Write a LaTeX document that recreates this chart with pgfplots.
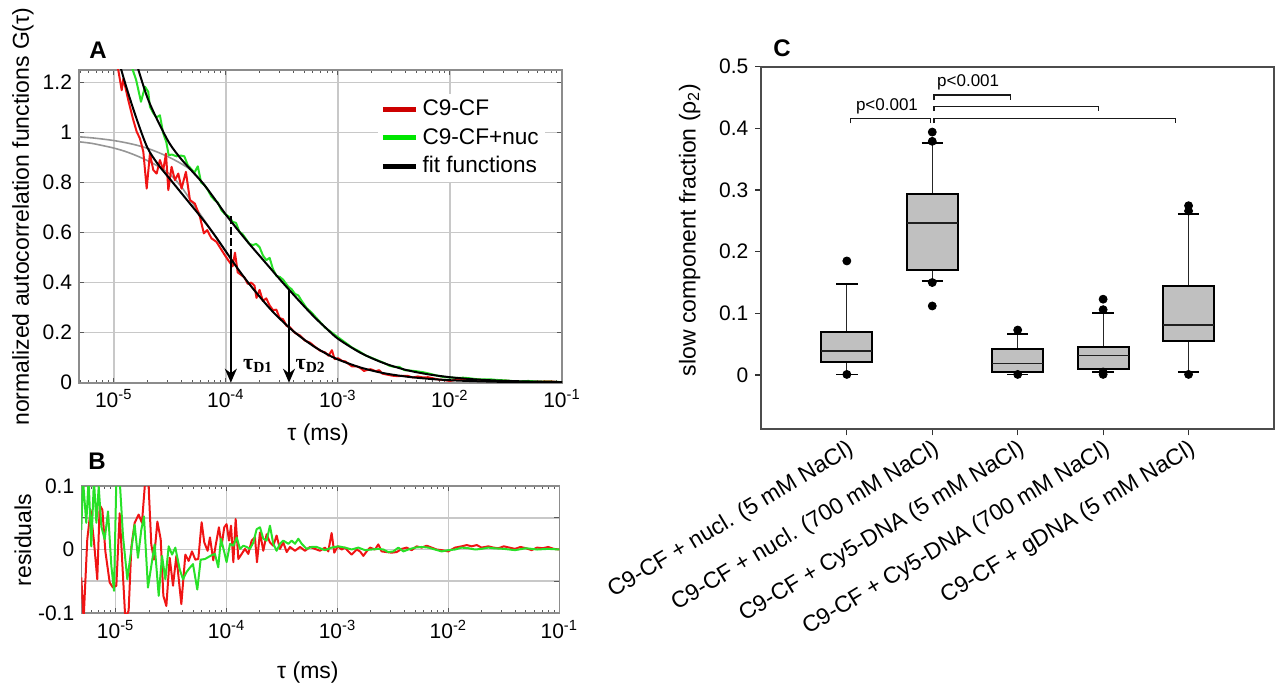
\documentclass[border=0pt]{standalone}
\usepackage{pgfplots}
\pgfplotsset{compat=1.18}
\usetikzlibrary{arrows.meta}
\usepackage{fontspec}
\setmainfont{Liberation Sans}
\newfontfamily\timesfont{Liberation Serif}

\definecolor{datred}{RGB}{240,20,20}
\definecolor{datgreen}{RGB}{40,225,40}
\definecolor{legred}{RGB}{205,0,0}
\definecolor{leggreen}{RGB}{0,230,0}
\definecolor{fitgray}{RGB}{150,150,150}
\definecolor{gridgray}{RGB}{200,200,200}
\definecolor{framegray}{RGB}{140,140,140}
\definecolor{boxgray}{RGB}{192,192,192}

\newcommand\tlbl{\fontsize{10.5}{12}\selectfont}
\newcommand\lbl{\fontsize{11.5}{13}\selectfont}
\newcommand\plbl{\fontsize{8.5}{10}\selectfont}

\pgfplotsset{
  fcs/.style={
    scale only axis, xmin=-5.31, xmax=-1,
    xtick={-5,-4,-3,-2,-1},
    xticklabels={10\textsuperscript{-5},10\textsuperscript{-4},10\textsuperscript{-3},10\textsuperscript{-2},10\textsuperscript{-1}},
    minor xtick={-5.301,-5.222,-5.155,-5.097,-5.046,
      -4.699,-4.523,-4.398,-4.301,-4.222,-4.155,-4.097,-4.046,
      -3.699,-3.523,-3.398,-3.301,-3.222,-3.155,-3.097,-3.046,
      -2.699,-2.523,-2.398,-2.301,-2.222,-2.155,-2.097,-2.046,
      -1.699,-1.523,-1.398,-1.301,-1.222,-1.155,-1.097,-1.046},
    grid=major, major grid style={draw=gridgray, line width=0.8pt},
    axis line style={draw=framegray, line width=0.8pt},
    tick align=inside, tick style={draw=gray!70!black, line width=0.5pt},
    major tick length=2.5pt, minor tick length=1.5pt,
    tick label style={font=\tlbl}, label style={font=\lbl},
    every axis plot/.append style={line join=round},
  }
}

\begin{document}
\begin{tikzpicture}
\path[use as bounding box] (0,0) rectangle (639pt,343.5pt);

% ---------------- A ----------------
\begin{axis}[fcs,
  at={(39.5pt,308.5pt)}, anchor=north west,
  width=241.5pt, height=156.35pt,
  ymin=0, ymax=1.25,
  ytick={0,0.2,0.4,0.6,0.8,1,1.2},
  yticklabels={0,0.2,0.4,0.6,0.8,1,1.2},
  xlabel={τ (ms)}, ylabel={normalized autocorrelation functions G(τ)},
  xlabel style={at={(axis description cs:0.495,-0.167)}, anchor=center},
  ylabel style={at={(axis description cs:-0.116,0.531)}, anchor=center},
  legend style={at={(axis description cs:0.619,0.925)}, anchor=north west,
    draw=none, fill=white, font=\fontsize{11.3}{13}\selectfont, row sep=0.8pt, inner sep=1pt},
  legend cell align=left,
  legend image code/.code={\draw[#1] (0pt,0pt) -- (16.5pt,0pt);},
]
% single-component curves (grey)
\addplot[fitgray, line width=0.8pt, smooth, forget plot] coordinates {
(-5.31,0.963) (-5.2,0.957) (-5.1,0.948) (-5.0,0.938) (-4.9,0.925) (-4.8,0.908)
(-4.7,0.888) (-4.6,0.864) (-4.5,0.834) (-4.4,0.785) (-4.3,0.72) (-4.2,0.655)
(-4.1,0.59) (-4.0,0.525)};
\addplot[fitgray, line width=0.8pt, smooth, forget plot] coordinates {
(-5.31,0.983) (-5.2,0.979) (-5.1,0.974) (-5.0,0.968) (-4.9,0.96) (-4.8,0.95)
(-4.7,0.937) (-4.6,0.92) (-4.5,0.90) (-4.4,0.876) (-4.3,0.846) (-4.2,0.795)
(-4.1,0.735) (-4.0,0.672)};
% C9-CF data
\addplot[datred, line width=1pt, forget plot] coordinates {
(-5.31,1.95) (-5.2,1.75) (-5.1,1.56) (-5.0,1.33) (-4.959,1.249) (-4.929,1.169)
(-4.914,1.216) (-4.870,1.129) (-4.825,1.049) (-4.795,1.003) (-4.766,0.976)
(-4.736,0.923) (-4.706,0.776) (-4.677,0.916) (-4.647,0.850) (-4.617,0.836)
(-4.588,0.890) (-4.558,0.850) (-4.534,0.916) (-4.513,0.770) (-4.484,0.863)
(-4.454,0.810) (-4.424,0.836) (-4.395,0.776) (-4.356,0.843) (-4.320,0.730)
(-4.276,0.716) (-4.231,0.663) (-4.196,0.597) (-4.166,0.610) (-4.128,0.577)
(-4.083,0.563) (-4.047,0.537) (-4.009,0.510) (-3.979,0.490) (-3.939,0.465)
(-3.918,0.520) (-3.894,0.441) (-3.864,0.431) (-3.834,0.421) (-3.804,0.395)
(-3.774,0.400) (-3.744,0.388) (-3.726,0.339) (-3.699,0.371) (-3.669,0.327)
(-3.639,0.337) (-3.609,0.309) (-3.579,0.290) (-3.549,0.292) (-3.519,0.258)
(-3.489,0.254) (-3.458,0.227) (-3.428,0.222) (-3.383,0.199) (-3.338,0.189)
(-3.293,0.168) (-3.248,0.160) (-3.203,0.143) (-3.158,0.128) (-3.113,0.121)
(-3.083,0.108) (-3.053,0.130) (-3.029,0.094) (-2.998,0.098) (-2.962,0.087)
(-2.932,0.085) (-2.902,0.074) (-2.872,0.065) (-2.827,0.065) (-2.797,0.058)
(-2.767,0.047) (-2.737,0.051) (-2.707,0.054) (-2.662,0.046) (-2.632,0.050)
(-2.602,0.036) (-2.557,0.032) (-2.512,0.028) (-2.466,0.026) (-2.421,0.0275)
(-2.376,0.027) (-2.331,0.021) (-2.286,0.025) (-2.241,0.021) (-2.196,0.022)
(-2.151,0.0175) (-2.106,0.013) (-2.061,0.011) (-2.001,0.007) (-1.940,0.012)
(-1.880,0.013) (-1.835,0.014) (-1.790,0.011) (-1.745,0.013) (-1.700,0.008)
(-1.640,0.0095) (-1.595,0.007) (-1.50,0.008) (-1.40,0.0035) (-1.30,0.004)
(-1.20,0.0046) (-1.10,0.0053) (-1.00,0.001)};
% C9-CF+nuc data
\addplot[datgreen, line width=1pt, forget plot] coordinates {
(-5.31,2.0) (-5.1,1.72) (-4.95,1.45) (-4.88,1.34) (-4.83,1.25) (-4.80,1.21)
(-4.757,1.123) (-4.721,1.183) (-4.692,1.163) (-4.677,1.103) (-4.65,1.08)
(-4.62,1.06) (-4.588,1.069) (-4.56,1.00) (-4.53,0.96) (-4.51,0.91) (-4.48,0.912)
(-4.44,0.905) (-4.40,0.908) (-4.37,0.905) (-4.34,0.87) (-4.31,0.855) (-4.28,0.84)
(-4.25,0.865) (-4.22,0.80) (-4.19,0.79) (-4.16,0.77) (-4.13,0.745) (-4.10,0.73)
(-4.07,0.72) (-4.04,0.69) (-4.01,0.675) (-3.969,0.663) (-3.939,0.643)
(-3.909,0.639) (-3.879,0.604) (-3.849,0.593) (-3.819,0.574) (-3.789,0.555)
(-3.759,0.550) (-3.729,0.555) (-3.699,0.542) (-3.669,0.509) (-3.639,0.490)
(-3.609,0.499) (-3.579,0.454) (-3.549,0.427) (-3.519,0.423) (-3.489,0.412)
(-3.443,0.384) (-3.413,0.374) (-3.383,0.355) (-3.353,0.349) (-3.323,0.327)
(-3.278,0.298) (-3.233,0.280) (-3.188,0.257) (-3.143,0.235) (-3.113,0.220)
(-3.053,0.200) (-2.993,0.180) (-2.932,0.160) (-2.872,0.140) (-2.812,0.126)
(-2.752,0.109) (-2.692,0.098) (-2.632,0.087) (-2.587,0.079) (-2.542,0.068)
(-2.497,0.063) (-2.451,0.063) (-2.406,0.050) (-2.361,0.049) (-2.301,0.046)
(-2.241,0.042) (-2.181,0.036) (-2.121,0.029) (-2.061,0.023) (-2.001,0.021)
(-1.940,0.019) (-1.880,0.020) (-1.820,0.0175) (-1.760,0.014) (-1.700,0.013)
(-1.640,0.0135) (-1.595,0.0115) (-1.5,0.009) (-1.4,0.005) (-1.3,0.007)
(-1.2,0.004) (-1.1,0.004) (-1.0,0.0024)};
% fit functions
\addplot[black, line width=1pt, smooth, forget plot] coordinates {
(-5.31,1.89) (-5.2,1.70) (-5.1,1.53) (-5.0,1.36) (-4.9,1.20) (-4.8,1.06)
(-4.7,0.94) (-4.6,0.87) (-4.5,0.815) (-4.4,0.76) (-4.3,0.705) (-4.2,0.65)
(-4.1,0.59) (-4.0,0.525) (-3.9,0.46) (-3.8,0.40) (-3.7,0.345) (-3.6,0.293)
(-3.5,0.248) (-3.4,0.207) (-3.3,0.172) (-3.2,0.141) (-3.1,0.115) (-3.0,0.093)
(-2.8,0.061) (-2.6,0.039) (-2.4,0.025) (-2.2,0.016) (-2.0,0.010) (-1.8,0.0064)
(-1.6,0.004) (-1.4,0.0025) (-1.2,0.0016) (-1.0,0.001)};
\addplot[black, line width=1pt, smooth, forget plot] coordinates {
(-5.31,2.0) (-5.2,1.87) (-5.1,1.72) (-5.0,1.58) (-4.9,1.43) (-4.8,1.28)
(-4.7,1.14) (-4.6,1.04) (-4.5,0.955) (-4.4,0.895) (-4.3,0.845) (-4.2,0.795)
(-4.1,0.735) (-4.0,0.672) (-3.9,0.615) (-3.8,0.56) (-3.7,0.508) (-3.6,0.456)
(-3.5,0.404) (-3.4,0.354) (-3.3,0.305) (-3.2,0.258) (-3.1,0.216) (-3.0,0.176)
(-2.8,0.120) (-2.6,0.080) (-2.4,0.052) (-2.2,0.034) (-2.0,0.022) (-1.8,0.014)
(-1.6,0.009) (-1.4,0.006) (-1.2,0.004) (-1.0,0.0024)};
\addlegendimage{legred, line width=2.6pt}
\addlegendentry{C9-CF}
\addlegendimage{leggreen, line width=2.6pt}
\addlegendentry{C9-CF+nuc}
\addlegendimage{black, line width=2.6pt}
\addlegendentry{fit functions}
% diffusion times
\draw[line width=1pt, dash pattern=on 4pt off 1.5pt] (axis cs:-3.955,0.503) -- (axis cs:-3.955,0.665);
\draw[line width=1pt, -{Stealth[length=7pt,width=6pt]}] (axis cs:-3.955,0.503) -- (axis cs:-3.955,0);
\draw[line width=1pt, -{Stealth[length=7pt,width=6pt]}] (axis cs:-3.436,0.370) -- (axis cs:-3.436,0);
\node[font=\timesfont\bfseries\fontsize{11}{12}\selectfont] at (axis cs:-3.711,0.066) {τ\textsubscript{D1}};
\node[font=\timesfont\bfseries\fontsize{11}{12}\selectfont] at (axis cs:-3.243,0.066) {τ\textsubscript{D2}};
\end{axis}

% ---------------- B ----------------
\begin{axis}[fcs,
  at={(40.65pt,100.5pt)}, anchor=north west,
  width=239pt, height=63.5pt,
  ymin=-0.1, ymax=0.1,
  ytick={-0.1,-0.05,0,0.05,0.1},
  yticklabels={-0.1,,0,,0.1},
  xlabel={τ (ms)}, ylabel={residuals},
  xlabel style={at={(axis description cs:0.474,-0.472)}, anchor=center},
  ylabel style={at={(axis description cs:-0.122,0.575)}, anchor=center},
]
\addplot[datred, line width=1pt] coordinates {
(-5.310,-0.044) (-5.289,-0.11) (-5.256,0.016) (-5.226,0.0625) (-5.196,0.013)
(-5.166,-0.047) (-5.144,0.07) (-5.120,0.0625) (-5.093,-0.003) (-5.054,-0.052)
(-5.024,-0.06) (-4.994,-0.057) (-4.964,0.057) (-4.934,-0.042) (-4.913,-0.11)
(-4.883,-0.096) (-4.859,0.003) (-4.829,0.042) (-4.793,0.055) (-4.763,0.042)
(-4.733,0.11) (-4.703,0.10) (-4.679,0.008) (-4.655,-0.016) (-4.624,0.044)
(-4.594,0.016) (-4.570,-0.073) (-4.543,-0.089) (-4.513,-0.013) (-4.483,-0.057)
(-4.453,-0.010) (-4.408,-0.086) (-4.372,-0.008) (-4.342,-0.018) (-4.312,-0.003)
(-4.282,-0.016) (-4.255,-0.015) (-4.225,0.043) (-4.201,0.011) (-4.171,-0.002)
(-4.150,0.019) (-4.120,-0.017) (-4.099,0.006) (-4.069,0.035) (-4.045,0.006)
(-4.021,0.035) (-4.000,0.040) (-3.978,0.014) (-3.960,0.0375) (-3.939,-0.020)
(-3.918,0.048) (-3.894,-0.015) (-3.864,-0.007) (-3.834,0.001) (-3.804,-0.007)
(-3.774,0.014) (-3.744,0.019) (-3.726,-0.02) (-3.699,0.027) (-3.669,-0.002)
(-3.639,0.024) (-3.609,0.011) (-3.579,0.006) (-3.549,0.022) (-3.519,0.001)
(-3.489,0.011) (-3.458,-0.004) (-3.428,0.004) (-3.383,-0.002) (-3.338,0.004)
(-3.293,-0.002) (-3.248,0.004) (-3.203,0.001) (-3.158,-0.002) (-3.113,0.003)
(-3.083,-0.003) (-3.053,0.026) (-3.029,-0.005) (-2.998,0.005) (-2.962,0)
(-2.932,0.003) (-2.902,-0.003) (-2.872,-0.008) (-2.827,0) (-2.797,-0.003)
(-2.767,-0.010) (-2.737,-0.003) (-2.707,0.003) (-2.662,0) (-2.632,0.008)
(-2.602,-0.003) (-2.557,-0.004) (-2.512,-0.005) (-2.466,-0.004) (-2.421,0.001)
(-2.376,0.003) (-2.331,-0.001) (-2.286,0.005) (-2.241,0.003) (-2.196,0.006)
(-2.151,0.003) (-2.106,0) (-2.061,-0.001) (-2.001,-0.003) (-1.940,0.003)
(-1.880,0.005) (-1.835,0.007) (-1.790,0.005) (-1.745,0.007) (-1.700,0.003)
(-1.640,0.005) (-1.595,0.003) (-1.55,0.002) (-1.50,0.005) (-1.45,0.003)
(-1.40,0.001) (-1.35,0.004) (-1.30,0.002) (-1.25,-0.001) (-1.20,0.003)
(-1.15,0.002) (-1.10,0.004) (-1.05,0.001) (-1.00,0.000)};
\addplot[datgreen, line width=1pt] coordinates {
(-5.310,0.031) (-5.295,0.11) (-5.265,0.042) (-5.244,0.11) (-5.220,0.005)
(-5.196,0.11) (-5.174,0.042) (-5.153,0.099) (-5.129,0.036) (-5.099,0.016)
(-5.069,0.06) (-5.039,-0.026) (-5.015,-0.065) (-4.994,0.11) (-4.964,0.11)
(-4.934,0.021) (-4.895,-0.047) (-4.865,-0.008) (-4.829,0.039) (-4.799,-0.013)
(-4.769,0.031) (-4.745,0.052) (-4.709,-0.06) (-4.679,-0.026) (-4.649,0.008)
(-4.612,-0.073) (-4.582,-0.010) (-4.552,-0.047) (-4.522,0.005) (-4.492,-0.008)
(-4.462,0.003) (-4.423,-0.031) (-4.393,-0.047) (-4.363,-0.036) (-4.333,-0.029)
(-4.303,-0.023) (-4.264,-0.063) (-4.234,-0.016) (-4.195,-0.015) (-4.165,-0.012)
(-4.135,-0.009) (-4.105,-0.007) (-4.075,-0.028) (-4.051,0.017) (-4.021,-0.004)
(-4.000,-0.02) (-3.969,0.009) (-3.939,0.006) (-3.909,0.019) (-3.879,0.001)
(-3.849,0.006) (-3.819,0.004) (-3.789,0.001) (-3.759,0.011) (-3.729,0.032)
(-3.699,0.035) (-3.669,0.017) (-3.639,0.014) (-3.609,0.0375) (-3.579,0.009)
(-3.549,-0.002) (-3.519,0.009) (-3.489,0.014) (-3.443,0.009) (-3.413,0.014)
(-3.383,0.009) (-3.353,0.017) (-3.323,0.009) (-3.278,0.001) (-3.233,0.004)
(-3.188,0.004) (-3.143,0.001) (-3.113,-0.001) (-3.053,0.003) (-2.993,0.005)
(-2.932,0.003) (-2.872,0) (-2.812,0.003) (-2.752,-0.001) (-2.692,0)
(-2.632,0.001) (-2.587,0) (-2.542,-0.004) (-2.497,-0.003) (-2.451,0.003)
(-2.406,-0.003) (-2.361,0) (-2.301,0.003) (-2.241,0.004) (-2.181,0.003)
(-2.121,0) (-2.061,-0.003) (-2.001,-0.001) (-1.940,0) (-1.880,0.003)
(-1.820,0.002) (-1.760,0) (-1.700,0.001) (-1.640,0.003) (-1.595,0.002)
(-1.5,0.001) (-1.4,-0.001) (-1.3,0.002) (-1.2,0.000) (-1.1,0.001) (-1.0,0.000)};
\end{axis}

% ---------------- C ----------------
\begin{axis}[
  scale only axis,
  at={(380.7pt,310.15pt)}, anchor=north west,
  width=256.3pt, height=181.3pt,
  xmin=0, xmax=6, ymin=-0.088, ymax=0.5,
  unbounded coords=jump,
  xtick={1,2,3,4,5},
  xticklabels={C9-CF + nucl. (5 mM NaCl),C9-CF + nucl. (700 mM NaCl),C9-CF + Cy5-DNA (5 mM NaCl),C9-CF + Cy5-DNA (700 mM NaCl),C9-CF + gDNA (5 mM NaCl)},
  ytick={0,0.1,0.2,0.3,0.4,0.5},
  yticklabels={0,0.1,0.2,0.3,0.4,0.5},
  xtick pos=bottom, ytick pos=left, tick align=outside,
  major tick length=3pt,
  tick style={draw=gray!40!black, line width=0.6pt},
  axis line style={draw=gray!60!black, line width=1pt},
  tick label style={font=\tlbl}, label style={font=\lbl},
  xticklabel style={rotate=31, anchor=north east, inner sep=1pt, font=\lbl},
  ylabel={slow component fraction (ρ\textsubscript{2})},
  ylabel style={at={(axis description cs:-0.14,0.55)}, anchor=center},
]
% whiskers (quartile to whisker end)
\addplot[gray!30!black, line width=0.6pt] coordinates {
(1,0.070) (1,0.1476) (nan,nan) (1,0.0216) (1,0.001) (nan,nan)
(2,0.2935) (2,0.376) (nan,nan) (2,0.171) (2,0.152) (nan,nan)
(3,0.0416) (3,0.067) (nan,nan) (3,0.0054) (3,0.001) (nan,nan)
(4,0.045) (4,0.1005) (nan,nan) (4,0.009) (4,0.0054) (nan,nan)
(5,0.145) (5,0.2605) (nan,nan) (5,0.0557) (5,0.0043)};
% boxes (lower to upper quartile)
\addplot[draw=black, line width=1pt, fill=boxgray] coordinates {(0.7,0.0216) (1.3,0.0216) (1.3,0.070) (0.7,0.070)} --cycle;
\addplot[draw=black, line width=1pt, fill=boxgray] coordinates {(1.7,0.171) (2.3,0.171) (2.3,0.2935) (1.7,0.2935)} --cycle;
\addplot[draw=black, line width=1pt, fill=boxgray] coordinates {(2.7,0.0054) (3.3,0.0054) (3.3,0.0416) (2.7,0.0416)} --cycle;
\addplot[draw=black, line width=1pt, fill=boxgray] coordinates {(3.7,0.009) (4.3,0.009) (4.3,0.045) (3.7,0.045)} --cycle;
\addplot[draw=black, line width=1pt, fill=boxgray] coordinates {(4.7,0.0557) (5.3,0.0557) (5.3,0.145) (4.7,0.145)} --cycle;
% medians
\addplot[gray!25!black, line width=0.8pt] coordinates {
(0.7,0.039) (1.3,0.039) (nan,nan) (1.7,0.247) (2.3,0.247) (nan,nan)
(2.7,0.019) (3.3,0.019) (nan,nan) (3.7,0.032) (4.3,0.032) (nan,nan)
(4.7,0.081) (5.3,0.081)};
% whisker caps
\addplot[black, line width=0.9pt] coordinates {
(0.875,0.1476) (1.125,0.1476) (nan,nan) (0.875,0.001) (1.125,0.001) (nan,nan)
(1.875,0.376) (2.125,0.376) (nan,nan) (1.875,0.152) (2.125,0.152) (nan,nan)
(2.875,0.067) (3.125,0.067) (nan,nan) (2.875,0.001) (3.125,0.001) (nan,nan)
(3.875,0.1005) (4.125,0.1005) (nan,nan) (3.875,0.0054) (4.125,0.0054) (nan,nan)
(4.875,0.2605) (5.125,0.2605) (nan,nan) (4.875,0.0043) (5.125,0.0043)};
% outliers
\addplot[only marks, mark=*, mark size=2pt, black] coordinates {
(1,0.185) (1,0.001) (2,0.394) (2,0.379) (2,0.150) (2,0.112)
(3,0.073) (3,0.001) (4,0.123) (4,0.106) (4,0.005) (4,0.001)
(5,0.2746) (5,0.266) (5,0.001)};
% significance brackets
\draw[gray!20!black, line width=0.6pt] (axis cs:1.04,0.408) -- (axis cs:1.04,0.416) -- (axis cs:1.98,0.416) -- (axis cs:1.98,0.408);
\draw[gray!20!black, line width=0.6pt] (axis cs:2.02,0.446) -- (axis cs:2.02,0.454) -- (axis cs:2.92,0.454) -- (axis cs:2.92,0.446);
\draw[gray!20!black, line width=0.6pt] (axis cs:2.02,0.428) -- (axis cs:2.02,0.436) -- (axis cs:3.95,0.436) -- (axis cs:3.95,0.428);
\draw[gray!20!black, line width=0.6pt] (axis cs:2.02,0.408) -- (axis cs:2.02,0.416) -- (axis cs:4.85,0.416) -- (axis cs:4.85,0.408);
\node[font=\plbl] at (axis cs:1.47,0.435) {p<0.001};
\node[font=\plbl] at (axis cs:2.42,0.474) {p<0.001};
\end{axis}

\node[font=\bfseries\fontsize{12}{14}\selectfont] at (49pt,318.5pt) {A};
\node[font=\bfseries\fontsize{12}{14}\selectfont] at (48.5pt,113pt) {B};
\node[font=\bfseries\fontsize{12}{14}\selectfont] at (391pt,319.5pt) {C};
\end{tikzpicture}
\end{document}
